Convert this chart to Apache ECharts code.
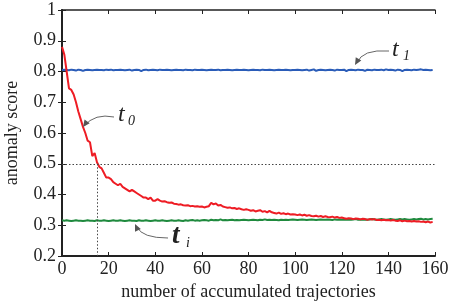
<!DOCTYPE html>
<html><head><meta charset="utf-8">
<script src="https://cdn.jsdelivr.net/npm/echarts@6/dist/echarts.min.js"></script>
<style>html,body{margin:0;padding:0;background:#fff}#c{width:456px;height:306px}</style>
</head><body><div id="c"></div>
<script>
const xTicks = [0,20,40,60,80,100,120,140,160];
const yTicks = [0.2,0.3,0.4,0.5,0.6,0.7,0.8,0.9,1];
const redT0 = [0.88,0.855,0.80,0.745,0.74,0.725,0.70,0.67,0.645,0.62,
0.60,0.575,0.57,0.525,0.535,0.505,0.49,0.485,0.47,0.455,
0.455,0.45,0.44,0.435,0.43,0.435,0.425,0.42,0.415,0.41,
0.415,0.41,0.405,0.40,0.395,0.39,0.39,0.385,0.39,0.38,
0.38,0.385,0.38,0.377,0.378,0.375,0.373,0.374,0.37,0.369,
0.367,0.368,0.365,0.364,0.365,0.362,0.363,0.361,0.362,0.36,
0.361,0.358,0.36,0.362,0.373,0.368,0.371,0.364,0.366,0.361,
0.359,0.357,0.358,0.355,0.356,0.353,0.355,0.352,0.35,0.352,
0.35,0.347,0.349,0.345,0.347,0.349,0.344,0.346,0.342,0.347,
0.342,0.34,0.338,0.341,0.337,0.339,0.336,0.338,0.335,0.336,
0.335,0.333,0.335,0.332,0.334,0.331,0.333,0.33,0.329,0.331,
0.328,0.33,0.327,0.329,0.327,0.326,0.328,0.325,0.327,0.324,
0.325,0.323,0.321,0.323,0.322,0.32,0.322,0.321,0.319,0.321,
0.32,0.318,0.32,0.319,0.32,0.317,0.318,0.316,0.318,0.316,
0.317,0.315,0.317,0.315,0.314,0.316,0.313,0.315,0.313,0.314,
0.312,0.314,0.312,0.313,0.311,0.312,0.31,0.312,0.309,0.311];
const blueT1 = [0.805,0.806,0.805,0.804,0.806,0.805,0.803,0.806,0.805,0.802,
0.805,0.806,0.805,0.804,0.805,0.806,0.805,0.805,0.804,0.806,
0.805,0.806,0.804,0.805,0.805,0.806,0.805,0.804,0.805,0.806,
0.803,0.805,0.806,0.805,0.801,0.805,0.806,0.804,0.805,0.806,
0.805,0.804,0.806,0.805,0.805,0.806,0.805,0.804,0.805,0.806,
0.805,0.805,0.804,0.806,0.805,0.805,0.804,0.806,0.805,0.805,
0.806,0.805,0.804,0.805,0.806,0.805,0.805,0.806,0.804,0.805,
0.805,0.806,0.805,0.804,0.805,0.806,0.805,0.805,0.806,0.805,
0.804,0.805,0.806,0.805,0.805,0.804,0.806,0.805,0.805,0.806,
0.805,0.804,0.805,0.806,0.805,0.805,0.806,0.805,0.804,0.805,
0.805,0.806,0.805,0.804,0.805,0.806,0.803,0.805,0.807,0.802,
0.805,0.806,0.805,0.804,0.805,0.806,0.805,0.803,0.806,0.805,
0.805,0.806,0.801,0.805,0.806,0.805,0.804,0.806,0.805,0.805,
0.802,0.806,0.805,0.804,0.806,0.805,0.805,0.806,0.804,0.807,
0.805,0.806,0.805,0.803,0.806,0.805,0.801,0.805,0.806,0.805,
0.804,0.806,0.805,0.806,0.807,0.805,0.806,0.805,0.804,0.805];
const greenTi = [0.316,0.315,0.316,0.315,0.314,0.315,0.316,0.315,0.315,0.314,
0.315,0.316,0.315,0.315,0.314,0.316,0.315,0.315,0.316,0.315,
0.314,0.315,0.316,0.315,0.315,0.316,0.315,0.314,0.315,0.316,
0.315,0.315,0.314,0.316,0.315,0.315,0.316,0.315,0.314,0.315,
0.316,0.315,0.315,0.316,0.315,0.314,0.315,0.316,0.315,0.315,
0.316,0.315,0.314,0.316,0.315,0.316,0.317,0.315,0.316,0.315,
0.316,0.317,0.316,0.315,0.318,0.316,0.317,0.316,0.319,0.316,
0.317,0.316,0.317,0.318,0.316,0.317,0.316,0.317,0.318,0.317,
0.316,0.317,0.318,0.317,0.316,0.318,0.317,0.319,0.317,0.318,
0.317,0.318,0.317,0.316,0.318,0.317,0.318,0.317,0.318,0.319,
0.318,0.317,0.318,0.319,0.318,0.317,0.318,0.319,0.318,0.317,
0.318,0.319,0.318,0.318,0.319,0.318,0.317,0.319,0.318,0.319,
0.318,0.319,0.318,0.319,0.318,0.319,0.32,0.318,0.319,0.318,
0.319,0.318,0.319,0.32,0.319,0.318,0.319,0.32,0.319,0.318,
0.319,0.32,0.319,0.318,0.319,0.32,0.319,0.32,0.319,0.318,
0.319,0.32,0.319,0.32,0.321,0.319,0.32,0.319,0.32,0.321];
const xLabel = 'number of accumulated trajectories';
const yLabel = 'anomaly score';
const cutX = 15, cutY = 0.5;

const pairs = arr => arr.map((v,i)=>[i,v]);
const ff = 'Liberation Serif';
const axCol = '#222';
const chart = echarts.init(document.getElementById('c'));
const baseX = {type:'value',min:xTicks[0],max:xTicks[xTicks.length-1],interval:20};
const baseY = {type:'value',min:yTicks[0],max:yTicks[yTicks.length-1],interval:0.1};
function arrow(pts){
  return {type:'bezierCurve',shape:{x1:pts[0],y1:pts[1],cpx1:pts[2],cpy1:pts[3],x2:pts[4],y2:pts[5]},
    style:{stroke:'#666',lineWidth:1,fill:null},z:10};
}
function head(x,y,ang){
  const L=7,W=3.2;
  const c=Math.cos(ang),s=Math.sin(ang);
  const bx=x-L*c, by=y-L*s;
  return {type:'polygon',shape:{points:[[x,y],[bx+W*s,by-W*c],[bx-W*s,by+W*c]]},style:{fill:'#555'},z:10};
}
function txt(x,y,t,size,weight){
  return {type:'text',left:x,top:y,style:{text:t,fontFamily:ff,fontStyle:'italic',fontWeight:weight||'normal',fontSize:size,fill:'#222'},z:10};
}
chart.setOption({
  animation:false,
  grid:{left:62,right:21,top:10,bottom:50,containLabel:false,outerBoundsMode:'none'},
  xAxis:[
    Object.assign({},baseX,{position:'bottom',name:xLabel,nameLocation:'middle',nameGap:27,
      nameTextStyle:{fontFamily:ff,fontSize:18,color:'#222'},
      axisLine:{lineStyle:{color:axCol,width:2}},axisTick:{inside:true,length:4,lineStyle:{color:axCol}},
      axisLabel:{fontFamily:ff,fontSize:18,color:'#222',margin:4},splitLine:{show:false}}),
    Object.assign({},baseX,{position:'top',axisLine:{lineStyle:{color:axCol,width:1.5}},
      axisTick:{inside:true,length:4,lineStyle:{color:axCol}},axisLabel:{show:false},splitLine:{show:false}})
  ],
  yAxis:[
    Object.assign({},baseY,{position:'left',name:yLabel,nameLocation:'middle',nameGap:41,
      nameTextStyle:{fontFamily:ff,fontSize:18,color:'#222'},
      axisLine:{lineStyle:{color:axCol,width:2}},axisTick:{inside:true,length:4,lineStyle:{color:axCol}},
      axisLabel:{fontFamily:ff,fontSize:18,color:'#222',margin:6},splitLine:{show:false}}),
    Object.assign({},baseY,{position:'right',axisLine:{lineStyle:{color:axCol,width:1.5}},
      axisTick:{inside:true,length:4,lineStyle:{color:axCol}},axisLabel:{show:false},splitLine:{show:false}})
  ],
  series:[
    {type:'line',data:pairs(blueT1),symbol:'none',lineStyle:{color:'#2a5cb8',width:2},z:3},
    {type:'line',data:pairs(greenTi),symbol:'none',lineStyle:{color:'#1f8a3e',width:2},z:3},
    {type:'line',data:pairs(redT0),symbol:'none',lineStyle:{color:'#ee1c24',width:2},z:4,
      markLine:{silent:true,symbol:'none',label:{show:false},
        lineStyle:{color:'#444',width:1,type:[1.5,2]},
        data:[[{coord:[xTicks[0],cutY]},{coord:[xTicks[xTicks.length-1],cutY]}],
              [{coord:[cutX,cutY]},{coord:[cutX,yTicks[0]]}]]}}
  ],
  graphic:[
    txt(118,103,'t',24), txt(128,114,'0',14),
    arrow([114,117,95,113,84,126]), head(83,127,2.2),
    txt(392,38,'t',24), txt(403,49,'1',14),
    arrow([389,51,362,49,357,63]), head(355,65,2.1),
    txt(172,223,'t',27,'bold'), txt(186,236,'i',14),
    arrow([168,238,142,238,137,227]), head(135,224,-2.0)
  ]
});
</script></body></html>
